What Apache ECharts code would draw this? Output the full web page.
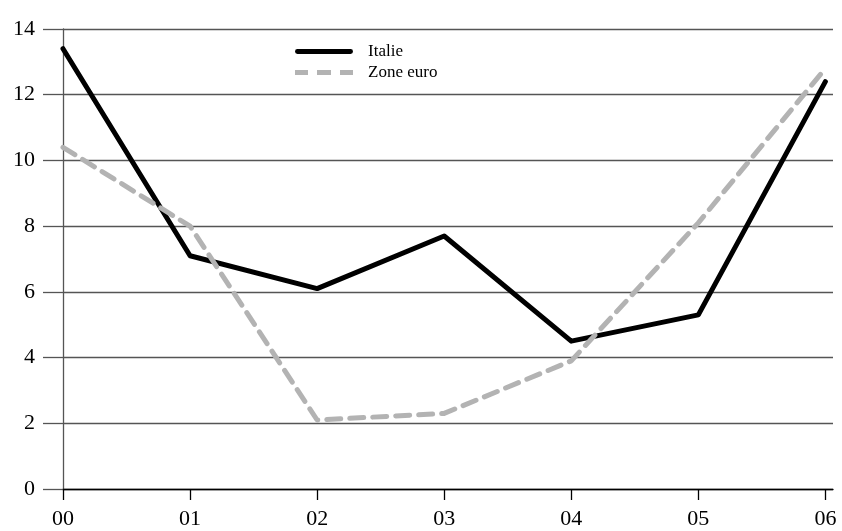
<!DOCTYPE html>
<html><head><meta charset="utf-8">
<script src="https://cdn.jsdelivr.net/npm/echarts@6/dist/echarts.min.js"></script>
<style>html,body{margin:0;padding:0;background:#fff}#c{width:842px;height:531px}</style>
</head><body><div id="c"></div>
<script>
const years = ['00','01','02','03','04','05','06'];
const italie = [13.4, 7.1, 6.1, 7.7, 4.5, 5.3, 12.4];
const zoneEuro = [10.4, 8.0, 2.1, 2.3, 3.9, 8.1, 12.8];

const font = 'Liberation Serif';
const chart = echarts.init(document.getElementById('c'));
const xIdx = years.map((_, i) => i);
chart.setOption({
  animation: false,
  textStyle: { fontFamily: font },
  grid: { left: 63, right: 9, top: 29, bottom: 42 },
  legend: {
    orient: 'vertical', left: 290, top: 38, itemWidth: 58, itemHeight: 5, itemGap: 4,
    textStyle: { fontFamily: font, fontSize: 17, color: '#000', padding: [0, 0, 0, 10] },
    data: [
      { name: 'Italie', icon: 'path://M2,0h54a2.5,2.5 0 0 1 0,5h-54a2.5,2.5 0 0 1 0,-5z', itemStyle: { color: '#000' } },
      { name: 'Zone euro', icon: 'path://M0,0h13v5h-13z M22,0h14v5h-14z M45,0h13v5h-13z', itemStyle: { color: '#b3b3b3' } }
    ]
  },
  xAxis: {
    type: 'value', min: 0, max: 6.06, interval: 1,
    axisLine: { lineStyle: { color: '#000', width: 1.3 } },
    axisTick: { customValues: xIdx, length: 11, lineStyle: { color: '#000', width: 1.3 } },
    axisLabel: { customValues: xIdx, formatter: v => years[Math.round(v)], fontSize: 22, color: '#000', fontFamily: font, margin: 19 },
    splitLine: { show: false }
  },
  yAxis: {
    type: 'value', min: 0, max: 14, interval: 2,
    axisLine: { show: true, lineStyle: { color: '#555', width: 1.3 } },
    axisTick: { show: true, inside: false, length: 20, lineStyle: { color: '#555', width: 1.3 } },
    axisLabel: { fontSize: 22, color: '#000', fontFamily: font, margin: 28 },
    splitLine: { show: true, lineStyle: { color: '#555', width: 1.3 } }
  },
  series: [
    { name: 'Italie', type: 'line', symbol: 'none', data: italie.map((v, i) => [i, v]),
      lineStyle: { color: '#000', width: 5, cap: 'round', join: 'round' }, itemStyle: { color: '#000' } },
    { name: 'Zone euro', type: 'line', symbol: 'none', data: zoneEuro.map((v, i) => [i, v]),
      lineStyle: { color: '#b3b3b3', width: 5, type: [14, 9], cap: 'round', join: 'round' }, itemStyle: { color: '#b3b3b3' } }
  ]
});
</script></body></html>
